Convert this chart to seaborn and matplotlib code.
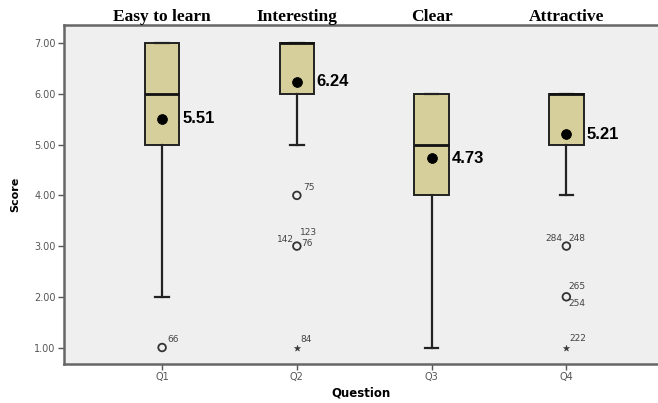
import numpy as np
import pandas as pd
import matplotlib
matplotlib.use("Agg")
import matplotlib.pyplot as plt
import seaborn as sns

# 数据
questions = ['Q1', 'Q2', 'Q3', 'Q4']
titles = ['Easy to learn', 'Interesting', 'Clear', 'Attractive']
box_q1 = [5, 6, 4, 5]
box_median = [6, 7, 5, 6]
box_q3 = [7, 7, 6, 6]
whisker_low = [2, 5, 1, 4]
whisker_high = [7, 7, 6, 6]
means = [5.51, 6.24, 4.73, 5.21]

# 离群值 (o) 与极端值 (*)
outlier_question = ['Q1', 'Q2', 'Q2', 'Q4', 'Q4']
outlier_score = [1, 4, 3, 3, 2]
extreme_question = ['Q2', 'Q4']
extreme_score = [1, 1]

# 个案编号
case_question = ['Q1', 'Q2', 'Q2', 'Q2', 'Q2', 'Q2', 'Q4', 'Q4', 'Q4', 'Q4', 'Q4']
case_score = [1, 4, 3, 3, 3, 1, 3, 3, 2, 2, 1]
case_id = ['66', '75', '142', '123', '76', '84', '284', '248', '265', '254', '222']
# 标签偏移 (像素) 与对齐
case_offset = [(5, 8), (6, 8), (-3, 7), (3, 14), (4, 3), (4, 8), (-4, 8), (2, 8), (2, 10), (2, -7), (3, 9)]
case_ha = ['left', 'left', 'right', 'left', 'left', 'left', 'right', 'left', 'left', 'left', 'left']

box_color = '#d6cf9c'
bg_color = '#efefef'
spine_color = '#555555'

fig = plt.figure(figsize=(6.58, 4.03), dpi=100)
ax = fig.add_axes([64 / 658, 39 / 403, 1 - 64 / 658, 339 / 403])
ax.set_facecolor(bg_color)

pos = {q: i for i, q in enumerate(questions)}

# 箱线图
stats = []
for i, q in enumerate(questions):
    stats.append({'label': q, 'q1': box_q1[i], 'med': box_median[i], 'q3': box_q3[i],
                  'whislo': whisker_low[i], 'whishi': whisker_high[i], 'fliers': []})
ax.bxp(stats, positions=range(len(questions)), widths=0.255, capwidths=0.1,
       patch_artist=True, showfliers=False,
       boxprops=dict(facecolor=box_color, edgecolor='#222222', linewidth=1.4),
       medianprops=dict(color='#111111', linewidth=2),
       whiskerprops=dict(color='#222222', linewidth=1.6),
       capprops=dict(color='#222222', linewidth=1.6))

# 离群值
out_df = pd.DataFrame({'x': [pos[q] for q in outlier_question], 'y': outlier_score})
sns.scatterplot(data=out_df, x='x', y='y', ax=ax, marker='o', s=30,
                facecolors='none', edgecolor='#333333', linewidth=1.3, zorder=4)
ext_df = pd.DataFrame({'x': [pos[q] for q in extreme_question], 'y': extreme_score})
sns.scatterplot(data=ext_df, x='x', y='y', ax=ax, marker='*', s=22,
                color='#333333', edgecolor='#333333', linewidth=0.3, zorder=4)

# 均值
mean_df = pd.DataFrame({'x': range(len(questions)), 'y': means})
sns.scatterplot(data=mean_df, x='x', y='y', ax=ax, s=50, color='black',
                edgecolor='black', zorder=5)
for i, m in enumerate(means):
    ax.annotate(f'{m:.2f}', xy=(i, m), xytext=(20, 0), textcoords='offset pixels',
                ha='left', va='center', fontsize=12, fontweight='bold',
                family='Liberation Sans', color='black', zorder=6)

# 个案编号
for q, s, cid, off, ha in zip(case_question, case_score, case_id, case_offset, case_ha):
    ax.annotate(cid, xy=(pos[q], s), xytext=off, textcoords='offset pixels',
                ha=ha, va='center', fontsize=6.5, color='#444444')

# 顶部标题
for i, t in enumerate(titles):
    ax.annotate(t, xy=(i, 1), xycoords=('data', 'axes fraction'), xytext=(0, 4),
                textcoords='offset pixels', ha='center', va='baseline',
                fontsize=12.5, fontweight='bold', family='Liberation Serif',
                annotation_clip=False)

ax.set_xlim(-0.728, 3.68)
ax.set_ylim(0.675, 7.36)
ax.set_xticks(range(len(questions)))
ax.set_xticklabels(questions)
ax.set_yticks([1, 2, 3, 4, 5, 6, 7])
ax.set_yticklabels([f'{v:.2f}' for v in [1, 2, 3, 4, 5, 6, 7]])
ax.tick_params(axis='both', labelsize=7, colors=spine_color, labelcolor='#555555',
               length=4.5, width=1, pad=1.5)

for side in ['left', 'bottom', 'top']:
    ax.spines[side].set_color('#666666')
    ax.spines[side].set_linewidth(1.8)
ax.spines['right'].set_visible(False)

ax.set_xlabel('Question', fontsize=8.5, fontweight='bold', labelpad=3)
ax.set_ylabel('Score', fontsize=8, fontweight='bold', labelpad=10)

fig.savefig('out.png', dpi=100)
